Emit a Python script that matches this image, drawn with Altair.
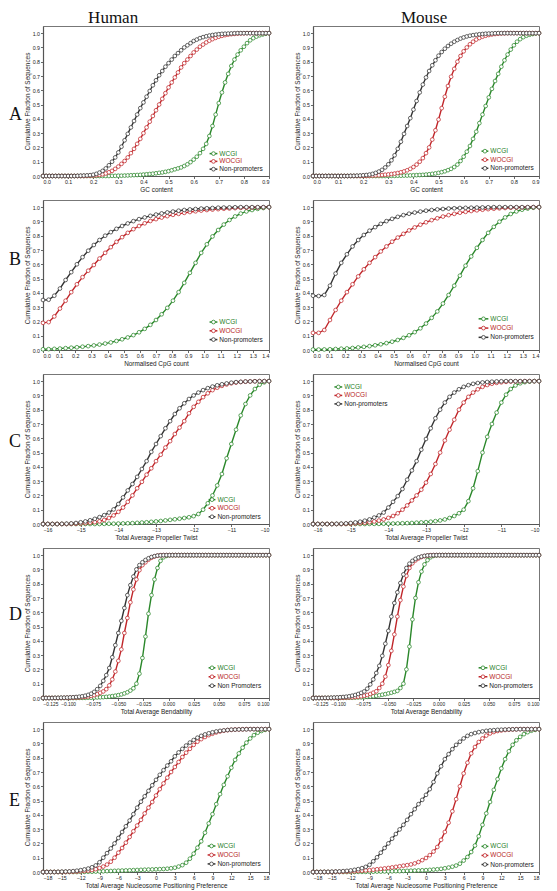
import altair as alt
import pandas as pd

# ---------------- categories / styling ----------------
SERIES = ["WCGI", "WOCGI", "Non-promoters"]
COLORS = ["#2a872a", "#c0262a", "#333333"]
TEXT_COLORS = ["#1f7d1f", "#b81e1e", "#222222"]
FONT = "Liberation Sans"
SERIF = "Liberation Serif"

# x sampling grids: (start, step, count)
GRID_A = (0.0, 0.0125, 73)
GRID_B = (0.0, 0.035, 41)
GRID_C = (-16.0, 0.125, 49)
GRID_D = (-0.125, 0.003, 76)
GRID_E = (-18.0, 0.6, 61)

# tick labels
YTICKS = [0.0, 0.1, 0.2, 0.3, 0.4, 0.5, 0.6, 0.7, 0.8, 0.9, 1.0]
TICKS_A = [0.0, 0.1, 0.2, 0.3, 0.4, 0.5, 0.6, 0.7, 0.8, 0.9]
TICKS_B = [0.0, 0.1, 0.2, 0.3, 0.4, 0.5, 0.6, 0.7, 0.8, 0.9, 1.0, 1.1, 1.2, 1.3, 1.4]
TICKS_C = [-16, -15, -14, -13, -12, -11, -10]
TICKS_D = [-0.125, -0.1, -0.075, -0.05, -0.025, 0.0, 0.025, 0.05, 0.075, 0.1]
TICKS_E = [-18, -15, -12, -9, -6, -3, 0, 3, 6, 9, 12, 15, 18]

# ---------------- A: GC content ----------------
HUMAN_A_WCGI = [0]*22 + [
    0.001, 0.001, 0.002, 0.002, 0.003, 0.004, 0.005, 0.006, 0.007, 0.008,
    0.010, 0.012, 0.014, 0.016, 0.019, 0.022, 0.025, 0.029, 0.034, 0.040,
    0.047, 0.053, 0.060, 0.070, 0.082, 0.097, 0.115, 0.135, 0.160, 0.190,
    0.225, 0.280, 0.350, 0.430, 0.510, 0.585, 0.655, 0.715, 0.770, 0.815,
    0.850, 0.880, 0.905, 0.930, 0.950, 0.965, 0.976, 0.985, 0.991, 0.996,
    1.000]
HUMAN_A_WOCGI = [0]*14 + [
    0.001, 0.002, 0.003, 0.005, 0.008, 0.012, 0.018, 0.026, 0.036, 0.050,
    0.066, 0.085, 0.105, 0.130, 0.160, 0.190, 0.225, 0.260, 0.300, 0.340,
    0.380, 0.420, 0.460, 0.500, 0.540, 0.580, 0.620, 0.655, 0.690, 0.725,
    0.760, 0.790, 0.815, 0.840, 0.865, 0.885, 0.905, 0.920, 0.935, 0.947,
    0.958, 0.967, 0.975, 0.981, 0.986, 0.990, 0.993, 0.995, 0.997, 0.998,
    0.999] + [1.0]*8
HUMAN_A_NONPROM = [0]*11 + [
    0.001, 0.002, 0.003, 0.004, 0.006, 0.009, 0.015, 0.024, 0.036, 0.053,
    0.075, 0.100, 0.130, 0.165, 0.205, 0.250, 0.295, 0.340, 0.385, 0.430,
    0.475, 0.515, 0.555, 0.595, 0.635, 0.670, 0.705, 0.735, 0.765, 0.790,
    0.815, 0.840, 0.860, 0.880, 0.900, 0.915, 0.930, 0.945, 0.955, 0.965,
    0.972, 0.978, 0.983, 0.987, 0.990, 0.993, 0.995, 0.996, 0.997, 0.998,
    0.999] + [1.0]*11
MOUSE_A_WCGI = [0]*24 + [
    0.001, 0.001, 0.001, 0.002, 0.002, 0.003, 0.003, 0.004, 0.005, 0.006,
    0.007, 0.008, 0.010, 0.012, 0.015, 0.018, 0.022, 0.027, 0.033, 0.041,
    0.050, 0.063, 0.080, 0.105, 0.135, 0.170, 0.210, 0.260, 0.310, 0.370,
    0.430, 0.490, 0.550, 0.610, 0.665, 0.715, 0.765, 0.810, 0.850, 0.885,
    0.915, 0.940, 0.958, 0.972, 0.982, 0.989, 0.994, 0.998, 1.000]
MOUSE_A_WOCGI = [0]*16 + [
    0.001, 0.001, 0.002, 0.003, 0.004, 0.005, 0.007, 0.009, 0.011, 0.014,
    0.017, 0.021, 0.026, 0.032, 0.040, 0.050, 0.063, 0.080, 0.100, 0.125,
    0.160, 0.200, 0.255, 0.320, 0.395, 0.475, 0.555, 0.630, 0.695, 0.750,
    0.800, 0.840, 0.873, 0.900, 0.922, 0.940, 0.955, 0.966, 0.975, 0.982,
    0.987, 0.991, 0.994, 0.996, 0.998, 0.999] + [1.0]*11
MOUSE_A_NONPROM = [0]*12 + [
    0.001, 0.001, 0.002, 0.003, 0.005, 0.007, 0.010, 0.015, 0.022, 0.031,
    0.043, 0.060, 0.082, 0.110, 0.145, 0.190, 0.240, 0.295, 0.350, 0.405,
    0.465, 0.525, 0.585, 0.640, 0.690, 0.735, 0.775, 0.810, 0.842, 0.868,
    0.891, 0.910, 0.926, 0.940, 0.952, 0.962, 0.970, 0.977, 0.982, 0.986,
    0.989, 0.992, 0.994, 0.996, 0.997, 0.998, 0.999] + [1.0]*14

# ---------------- B: Normalised CpG count ----------------
HUMAN_B_WCGI = [
    0.005, 0.006, 0.008, 0.010, 0.013, 0.016, 0.019, 0.023, 0.027, 0.032,
    0.038, 0.045, 0.053, 0.063, 0.075, 0.088, 0.104, 0.124, 0.148, 0.176,
    0.210, 0.250, 0.295, 0.345, 0.405, 0.470, 0.540, 0.610, 0.680, 0.740,
    0.795, 0.840, 0.878, 0.910, 0.935, 0.955, 0.970, 0.980, 0.988, 0.994,
    1.000]
HUMAN_B_WOCGI = [
    0.190, 0.195, 0.235, 0.290, 0.345, 0.405, 0.460, 0.510, 0.555, 0.595,
    0.640, 0.680, 0.720, 0.757, 0.790, 0.820, 0.846, 0.868, 0.887, 0.903,
    0.916, 0.927, 0.937, 0.946, 0.953, 0.960, 0.966, 0.971, 0.976, 0.980,
    0.983, 0.986, 0.989, 0.991, 0.993, 0.995, 0.996, 0.997, 0.998, 0.999,
    1.000]
HUMAN_B_NONPROM = [
    0.350, 0.352, 0.380, 0.430, 0.490, 0.545, 0.600, 0.650, 0.695, 0.735,
    0.770, 0.800, 0.825, 0.848, 0.868, 0.886, 0.902, 0.916, 0.928, 0.939,
    0.948, 0.956, 0.963, 0.969, 0.975, 0.980, 0.984, 0.987, 0.990, 0.992,
    0.994, 0.996, 0.997, 0.998, 0.999, 1.0, 1.0, 1.0, 1.0, 1.0,
    1.0]
MOUSE_B_WCGI = [
    0.003, 0.003, 0.004, 0.005, 0.007, 0.009, 0.011, 0.014, 0.018, 0.022,
    0.027, 0.033, 0.040, 0.048, 0.058, 0.070, 0.085, 0.103, 0.125, 0.152,
    0.185, 0.225, 0.270, 0.325, 0.385, 0.450, 0.520, 0.590, 0.655, 0.715,
    0.770, 0.820, 0.862, 0.898, 0.928, 0.952, 0.970, 0.982, 0.990, 0.996,
    1.000]
MOUSE_B_WOCGI = [
    0.120, 0.120, 0.140, 0.210, 0.280, 0.345, 0.405, 0.460, 0.515, 0.565,
    0.610, 0.650, 0.690, 0.725, 0.758, 0.787, 0.813, 0.837, 0.858, 0.877,
    0.894, 0.909, 0.922, 0.934, 0.944, 0.953, 0.961, 0.967, 0.973, 0.978,
    0.982, 0.986, 0.989, 0.992, 0.994, 0.996, 0.997, 0.998, 0.999, 1.000,
    1.000]
MOUSE_B_NONPROM = [
    0.380, 0.378, 0.385, 0.450, 0.535, 0.610, 0.670, 0.725, 0.770, 0.805,
    0.835, 0.860, 0.883, 0.902, 0.918, 0.932, 0.944, 0.954, 0.962, 0.969,
    0.975, 0.980, 0.984, 0.987, 0.990, 0.992, 0.994, 0.995, 0.996, 0.997,
    0.998, 0.999, 1.0, 1.0, 1.0, 1.0, 1.0, 1.0, 1.0, 1.0,
    1.0]

# ---------------- C: Total Average Propeller Twist ----------------
HUMAN_C_WCGI = [
    0, 0, 0, 0, 0, 0, 0, 0, 0, 0,
    0, 0, 0, 0.001, 0.002, 0.002, 0.003, 0.004, 0.005, 0.006,
    0.008, 0.010, 0.012, 0.015, 0.018, 0.021, 0.025, 0.029, 0.033, 0.037,
    0.042, 0.047, 0.055, 0.070, 0.100, 0.145, 0.200, 0.270, 0.350, 0.460,
    0.560, 0.660, 0.760, 0.840, 0.900, 0.945, 0.975, 0.992, 1.000]
HUMAN_C_WOCGI = [
    0, 0, 0, 0, 0, 0, 0.001, 0.002, 0.004, 0.006,
    0.009, 0.013, 0.019, 0.028, 0.042, 0.060, 0.085, 0.115, 0.155, 0.200,
    0.250, 0.295, 0.345, 0.390, 0.440, 0.485, 0.535, 0.580, 0.630, 0.675,
    0.720, 0.775, 0.820, 0.855, 0.888, 0.915, 0.937, 0.954, 0.967, 0.977,
    0.985, 0.990, 0.994, 0.996, 0.998, 0.999, 1.0, 1.0, 1.0]
HUMAN_C_NONPROM = [
    0, 0, 0, 0, 0.001, 0.002, 0.004, 0.007, 0.012, 0.018,
    0.026, 0.036, 0.048, 0.062, 0.080, 0.102, 0.140, 0.186, 0.235, 0.280,
    0.330, 0.385, 0.440, 0.505, 0.560, 0.615, 0.670, 0.720, 0.770, 0.810,
    0.845, 0.875, 0.900, 0.920, 0.937, 0.951, 0.962, 0.971, 0.978, 0.984,
    0.989, 0.993, 0.995, 0.997, 0.998, 0.999, 1.0, 1.0, 1.0]
MOUSE_C_WCGI = [
    0, 0, 0, 0, 0, 0, 0, 0, 0, 0,
    0, 0, 0.001, 0.001, 0.001, 0.002, 0.002, 0.003, 0.004, 0.005,
    0.006, 0.007, 0.009, 0.011, 0.013, 0.016, 0.020, 0.025, 0.032, 0.042,
    0.056, 0.075, 0.100, 0.160, 0.250, 0.370, 0.500, 0.610, 0.700, 0.780,
    0.850, 0.905, 0.945, 0.970, 0.985, 0.993, 0.997, 1.0, 1.0]
MOUSE_C_WOCGI = [
    0, 0, 0, 0, 0, 0, 0, 0.001, 0.002, 0.004,
    0.006, 0.009, 0.013, 0.018, 0.024, 0.032, 0.043, 0.056, 0.075, 0.100,
    0.130, 0.165, 0.200, 0.240, 0.290, 0.350, 0.420, 0.500, 0.585, 0.660,
    0.730, 0.800, 0.850, 0.890, 0.920, 0.943, 0.960, 0.973, 0.982, 0.988,
    0.992, 0.995, 0.997, 0.998, 0.999, 1.0, 1.0, 1.0, 1.0]
MOUSE_C_NONPROM = [
    0, 0, 0, 0, 0, 0.001, 0.002, 0.004, 0.007, 0.011,
    0.016, 0.023, 0.032, 0.045, 0.060, 0.080, 0.115, 0.155, 0.195, 0.245,
    0.310, 0.375, 0.440, 0.520, 0.595, 0.670, 0.740, 0.800, 0.850, 0.890,
    0.920, 0.943, 0.960, 0.972, 0.981, 0.987, 0.991, 0.994, 0.996, 0.998,
    0.999, 1.0, 1.0, 1.0, 1.0, 1.0, 1.0, 1.0, 1.0]

# ---------------- D: Total Average Bendability ----------------
HUMAN_D_WCGI = [
    0, 0, 0, 0, 0, 0, 0, 0, 0, 0,
    0, 0, 0.001, 0.001, 0.001, 0.002, 0.002, 0.003, 0.004, 0.005,
    0.006, 0.008, 0.010, 0.013, 0.016, 0.020, 0.025, 0.032, 0.040, 0.052,
    0.068, 0.100, 0.170, 0.280, 0.430, 0.590, 0.720, 0.830, 0.910, 0.960,
    0.985, 0.995, 0.999] + [1.0]*33
HUMAN_D_WOCGI = [
    0, 0, 0, 0, 0, 0, 0, 0.001, 0.001, 0.002,
    0.002, 0.003, 0.004, 0.006, 0.008, 0.011, 0.015, 0.020, 0.027, 0.036,
    0.046, 0.062, 0.088, 0.130, 0.185, 0.260, 0.340, 0.455, 0.560, 0.670,
    0.760, 0.830, 0.895, 0.930, 0.950, 0.968, 0.982, 0.991, 0.996, 0.999] + [1.0]*36
HUMAN_D_NONPROM = [
    0, 0, 0, 0, 0.001, 0.001, 0.002, 0.002, 0.003, 0.004,
    0.005, 0.007, 0.009, 0.012, 0.016, 0.022, 0.030, 0.043, 0.062, 0.085,
    0.120, 0.160, 0.210, 0.285, 0.370, 0.455, 0.540, 0.630, 0.720, 0.790,
    0.850, 0.900, 0.930, 0.950, 0.966, 0.978, 0.987, 0.993, 0.997, 0.999] + [1.0]*36
MOUSE_D_WCGI = [
    0, 0, 0, 0, 0, 0, 0, 0, 0, 0.001,
    0.001, 0.001, 0.002, 0.002, 0.003, 0.004, 0.005, 0.006, 0.008, 0.010,
    0.012, 0.015, 0.019, 0.023, 0.027, 0.032, 0.037, 0.043, 0.050, 0.070,
    0.100, 0.200, 0.360, 0.550, 0.700, 0.810, 0.885, 0.935, 0.965, 0.985,
    0.995, 0.999] + [1.0]*34
MOUSE_D_WOCGI = [
    0, 0, 0, 0, 0, 0, 0, 0, 0.001, 0.001,
    0.002, 0.003, 0.004, 0.005, 0.007, 0.009, 0.012, 0.016, 0.021, 0.028,
    0.037, 0.047, 0.070, 0.100, 0.150, 0.230, 0.330, 0.445, 0.570, 0.685,
    0.780, 0.855, 0.910, 0.943, 0.963, 0.977, 0.987, 0.993, 0.997, 0.999] + [1.0]*36
MOUSE_D_NONPROM = [
    0, 0, 0, 0, 0.001, 0.001, 0.002, 0.003, 0.004, 0.005,
    0.007, 0.009, 0.012, 0.016, 0.021, 0.028, 0.036, 0.046, 0.065, 0.095,
    0.130, 0.175, 0.225, 0.295, 0.380, 0.470, 0.570, 0.665, 0.740, 0.805,
    0.865, 0.910, 0.940, 0.960, 0.974, 0.984, 0.990, 0.995, 0.998, 0.999] + [1.0]*36

# ---------------- E: Total Average Nucleosome Positioning Preference ----------------
HUMAN_E_WCGI = [
    0, 0, 0, 0, 0, 0, 0, 0, 0, 0,
    0.001, 0.001, 0.002, 0.002, 0.003, 0.004, 0.005, 0.006, 0.007, 0.008,
    0.009, 0.010, 0.011, 0.012, 0.013, 0.014, 0.015, 0.016, 0.017, 0.018,
    0.019, 0.020, 0.021, 0.023, 0.026, 0.030, 0.038, 0.048, 0.065, 0.093,
    0.128, 0.170, 0.215, 0.275, 0.340, 0.405, 0.475, 0.545, 0.610, 0.670,
    0.730, 0.785, 0.830, 0.870, 0.905, 0.935, 0.958, 0.975, 0.987, 0.995,
    1.000]
HUMAN_E_WOCGI = [
    0, 0, 0, 0, 0, 0, 0, 0.001, 0.002, 0.003,
    0.005, 0.007, 0.010, 0.014, 0.020, 0.028, 0.038, 0.052, 0.072, 0.100,
    0.135, 0.168, 0.205, 0.245, 0.285, 0.325, 0.365, 0.410, 0.450, 0.490,
    0.535, 0.580, 0.620, 0.660, 0.700, 0.735, 0.770, 0.805, 0.835, 0.862,
    0.890, 0.912, 0.930, 0.945, 0.958, 0.968, 0.977, 0.984, 0.989, 0.993,
    0.995, 0.997, 0.998, 0.999, 1.0, 1.0, 1.0, 1.0, 1.0, 1.0,
    1.0]
HUMAN_E_NONPROM = [
    0, 0, 0, 0, 0.001, 0.002, 0.003, 0.004, 0.006, 0.009,
    0.013, 0.018, 0.024, 0.033, 0.046, 0.068, 0.100, 0.132, 0.165, 0.200,
    0.238, 0.280, 0.320, 0.360, 0.405, 0.450, 0.492, 0.530, 0.568, 0.607,
    0.645, 0.680, 0.713, 0.745, 0.775, 0.810, 0.837, 0.862, 0.885, 0.906,
    0.924, 0.940, 0.953, 0.963, 0.971, 0.978, 0.984, 0.988, 0.991, 0.994,
    0.996, 0.997, 0.998, 0.999, 0.999, 1.0, 1.0, 1.0, 1.0, 1.0,
    1.0]
MOUSE_E_WCGI = [
    0, 0, 0, 0, 0, 0, 0, 0, 0, 0,
    0, 0, 0.001, 0.001, 0.001, 0.002, 0.002, 0.003, 0.003, 0.004,
    0.004, 0.005, 0.006, 0.006, 0.007, 0.008, 0.009, 0.010, 0.011, 0.012,
    0.013, 0.015, 0.017, 0.019, 0.022, 0.026, 0.031, 0.037, 0.045, 0.058,
    0.080, 0.105, 0.140, 0.185, 0.250, 0.330, 0.410, 0.490, 0.575, 0.650,
    0.725, 0.790, 0.845, 0.890, 0.922, 0.946, 0.965, 0.979, 0.989, 0.995,
    1.000]
MOUSE_E_WOCGI = [
    0, 0, 0, 0, 0, 0, 0.001, 0.001, 0.002, 0.003,
    0.004, 0.005, 0.007, 0.009, 0.011, 0.013, 0.016, 0.019, 0.022, 0.025,
    0.028, 0.032, 0.036, 0.040, 0.044, 0.048, 0.053, 0.060, 0.070, 0.083,
    0.098, 0.118, 0.143, 0.175, 0.225, 0.280, 0.345, 0.425, 0.510, 0.600,
    0.690, 0.765, 0.830, 0.875, 0.910, 0.935, 0.955, 0.970, 0.980, 0.987,
    0.991, 0.994, 0.996, 0.998, 0.999, 1.0, 1.0, 1.0, 1.0, 1.0,
    1.0]
MOUSE_E_NONPROM = [
    0, 0, 0, 0.001, 0.001, 0.002, 0.003, 0.004, 0.006, 0.008,
    0.011, 0.015, 0.020, 0.027, 0.036, 0.050, 0.075, 0.103, 0.135, 0.168,
    0.200, 0.233, 0.266, 0.298, 0.330, 0.365, 0.405, 0.440, 0.475, 0.505,
    0.540, 0.580, 0.630, 0.690, 0.740, 0.790, 0.825, 0.860, 0.890, 0.912,
    0.935, 0.953, 0.965, 0.973, 0.979, 0.984, 0.988, 0.991, 0.993, 0.995,
    0.996, 0.997, 0.998, 0.999, 0.999, 1.0, 1.0, 1.0, 1.0, 1.0,
    1.0]

LABELS = ["WCGI", "WOCGI", "Non-promoters"]
LABELS_HD = ["WCGI", "WOCGI", "Non Promoters"]

# ---------------- layout ----------------
W, H = 226, 150
SX, SY = W / 232.0, H / 154.0


def xgrid(g):
    start, step, n = g
    return [round(start + step * i, 6) for i in range(n)]


def panel(grid, ys, xdomain, xticks, xfmt, xtitle, leg, labels,
          letter=None, letter_y=None, header=None, header_x=None, xlabel_size=5.3):
    xs = xgrid(grid)
    frames = []
    for name, vals in zip(SERIES, ys):
        if len(vals) != len(xs):
            raise ValueError(f"{xtitle} {name}: {len(vals)} vs {len(xs)}")
        frames.append(pd.DataFrame({"x": xs, "y": vals, "series": name}))
    df = pd.concat(frames, ignore_index=True)
    cscale = alt.Scale(domain=SERIES, range=COLORS)
    xaxis = alt.Axis(values=xticks, format=xfmt, title=xtitle, labelOverlap=False,
                     labelFontSize=xlabel_size)
    yaxis = alt.Axis(values=YTICKS, format=".1f", labelOverlap=False,
                     title="Cumulative Fraction of Sequences")
    xsc = alt.Scale(domain=xdomain, nice=False, zero=False)
    ysc = alt.Scale(domain=[0, 1.05], nice=False, zero=False)
    base = alt.Chart(df)
    lines = base.mark_line(strokeWidth=1.4).encode(
        x=alt.X("x:Q", scale=xsc, axis=xaxis),
        y=alt.Y("y:Q", scale=ysc, axis=yaxis),
        color=alt.Color("series:N", scale=cscale, legend=None))
    pts = base.mark_point(shape="circle", filled=True, fill="white", size=14,
                          strokeWidth=0.75, opacity=1).encode(
        x=alt.X("x:Q", scale=xsc, axis=xaxis),
        y=alt.Y("y:Q", scale=ysc, axis=yaxis),
        stroke=alt.Stroke("series:N", scale=cscale, legend=None))
    layers = [lines, pts]

    y0, dy, lx0, lx1 = leg
    one = pd.DataFrame({"k": [0]})
    for k, lab in enumerate(labels):
        yy = (y0 + dy * k) * SY
        layers.append(alt.Chart(one).mark_rule(color=COLORS[k], strokeWidth=1.5).encode(
            x=alt.value(lx0 * SX), x2=alt.value(lx1 * SX), y=alt.value(yy)))
        layers.append(alt.Chart(one).mark_point(
            shape="circle", filled=True, fill="white", stroke=COLORS[k],
            size=14, strokeWidth=0.8, opacity=1).encode(
            x=alt.value((lx0 + lx1) / 2 * SX), y=alt.value(yy)))
        layers.append(alt.Chart(one).mark_text(
            text=lab, align="left", baseline="middle", fontSize=6.5, font=FONT,
            color=TEXT_COLORS[k]).encode(
            x=alt.value(lx1 * SX + 2), y=alt.value(yy)))
    if letter:
        layers.append(alt.Chart(one).mark_text(
            text=letter, align="left", baseline="middle", fontSize=18, font=SERIF,
            color="#111").encode(x=alt.value(-34), y=alt.value(letter_y * SY)))
    if header:
        layers.append(alt.Chart(one).mark_text(
            text=header, align="center", baseline="alphabetic", fontSize=17,
            font=SERIF, color="#111").encode(x=alt.value(header_x * SX), y=alt.value(-3)))
    return alt.layer(*layers).properties(width=W, height=H)


panels = [
    panel(GRID_A, [HUMAN_A_WCGI, HUMAN_A_WOCGI, HUMAN_A_NONPROM], [0, 0.9], TICKS_A, ".1f",
          "GC content", (131, 8, 171, 179), LABELS, "A", 91.7, "Human", 72),
    panel(GRID_A, [MOUSE_A_WCGI, MOUSE_A_WOCGI, MOUSE_A_NONPROM], [0, 0.9], TICKS_A, ".1f",
          "GC content", (128.5, 8.8, 173, 180), LABELS, None, None, "Mouse", 114),
    panel(GRID_B, [HUMAN_B_WCGI, HUMAN_B_WOCGI, HUMAN_B_NONPROM], [0, 1.4], TICKS_B, ".1f",
          "Normalised CpG count", (125.3, 9, 171, 179), LABELS, "B", 61.4),
    panel(GRID_B, [MOUSE_B_WCGI, MOUSE_B_WOCGI, MOUSE_B_NONPROM], [0, 1.4], TICKS_B, ".1f",
          "Normalised CpG count", (122, 9.5, 170, 180), LABELS),
    panel(GRID_C, [HUMAN_C_WCGI, HUMAN_C_WOCGI, HUMAN_C_NONPROM], [-16, -10], TICKS_C, "d",
          "Total Average Propeller Twist", (129, 8.8, 170, 177), LABELS, "C", 70),
    panel(GRID_C, [MOUSE_C_WCGI, MOUSE_C_WOCGI, MOUSE_C_NONPROM], [-16, -10], TICKS_C, "d",
          "Total Average Propeller Twist", (13.3, 8.7, 22, 30), LABELS),
    panel(GRID_D, [HUMAN_D_WCGI, HUMAN_D_WOCGI, HUMAN_D_NONPROM], [-0.125, 0.1], TICKS_D, ".3f",
          "Total Average Bendability", (123, 9.2, 170, 177), LABELS_HD, "D", 69, xlabel_size=4.8),
    panel(GRID_D, [MOUSE_D_WCGI, MOUSE_D_WOCGI, MOUSE_D_NONPROM], [-0.125, 0.1], TICKS_D, ".3f",
          "Total Average Bendability", (123, 9.2, 170, 179), LABELS, xlabel_size=4.8),
    panel(GRID_E, [HUMAN_E_WCGI, HUMAN_E_WOCGI, HUMAN_E_NONPROM], [-18, 18], TICKS_E, "d",
          "Total Average Nucleosome Positioning Preference", (127.3, 9.2, 169, 177), LABELS, "E", 80.7),
    panel(GRID_E, [MOUSE_E_WCGI, MOUSE_E_WOCGI, MOUSE_E_NONPROM], [-18, 18], TICKS_E, "d",
          "Total Average Nucleosome Positioning Preference", (127.7, 9.3, 173, 180), LABELS),
]

chart = alt.concat(*panels, columns=2, spacing={"row": 5, "column": 20}, align="each").properties(
    padding={"left": 0, "top": 0, "right": 0, "bottom": 0}
).configure_view(
    stroke="#777", strokeWidth=1
).configure_axis(
    labelFont=FONT, titleFont=FONT, labelFontSize=5.3, titleFontSize=6.4,
    titleFontWeight="normal", labelColor="#222", titleColor="#222",
    domainColor="#555", domainWidth=1.2, tickColor="#444", tickSize=2.5,
    tickWidth=0.8, labelPadding=1, titlePadding=2, grid=False, labelOverlap=False
)

chart.save("out.html", embed_options={"renderer": "svg", "actions": False})
